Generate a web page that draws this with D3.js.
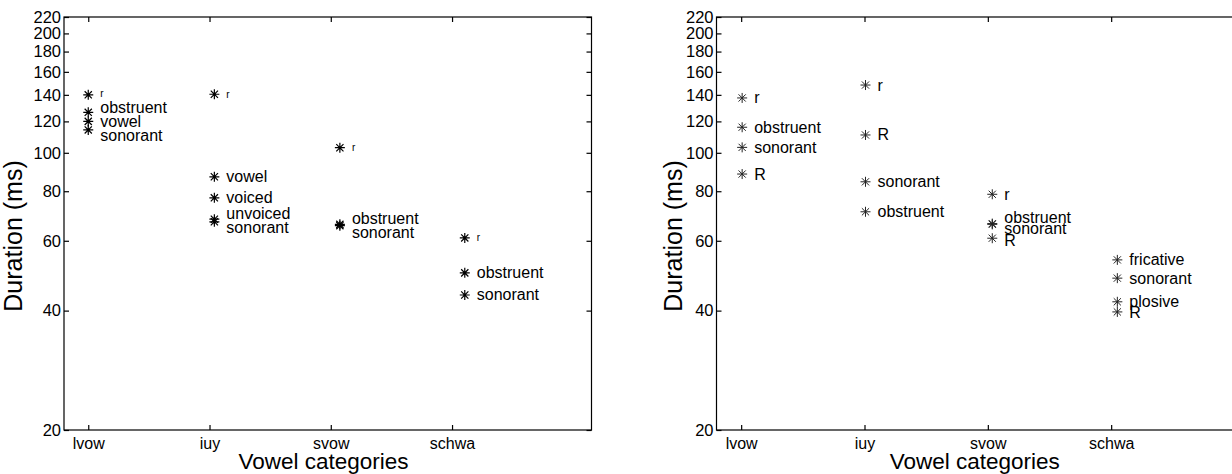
<!DOCTYPE html>
<html>
<head>
<meta charset="utf-8">
<script src="https://cdn.jsdelivr.net/npm/d3@7"></script>
<style>
  body { margin: 0; background: #fff; }
  svg { display: block; font-family: "Liberation Sans", Arial, Helvetica, sans-serif; }
  .axis path, .axis line { stroke: #000; stroke-width: 1.2; }
  .axis text { fill: #000; }
</style>
</head>
<body>
<div id="chart"></div>
<script>
const width = 1232;
const height = 474;

const categories = ['lvow', 'iuy', 'svow', 'schwa'];
const yTicks = [20, 40, 60, 80, 100, 120, 140, 160, 180, 200, 220];

// left panel: where each category's points sit on the x axis, and the points
const leftXPos = [1, 2.04, 3.075, 4.105];
const leftGroup = [0, 0, 0, 0, 1, 1, 1, 1, 1, 2, 2, 2, 3, 3, 3];
const leftLabels = ['r', 'obstruent', 'vowel', 'sonorant',
  'r', 'vowel', 'voiced', 'unvoiced', 'sonorant',
  'r', 'obstruent', 'sonorant',
  'r', 'obstruent', 'sonorant'];
const leftValues = [140, 126.5, 120, 114.2,
  140.5, 87, 77, 68, 67,
  103, 66, 65.5,
  61, 49.8, 43.8];

// right panel
const rightXPos = [1.008, 2.008, 3.036, 4.05];
const rightGroup = [0, 0, 0, 0, 1, 1, 1, 1, 2, 2, 2, 2, 3, 3, 3, 3];
const rightLabels = ['r', 'obstruent', 'sonorant', 'R',
  'r', 'R', 'sonorant', 'obstruent',
  'r', 'obstruent', 'sonorant', 'R',
  'fricative', 'sonorant', 'plosive', 'R'];
const rightValues = [137.5, 116, 103.2, 88.4,
  148.2, 110.9, 84.5, 71,
  78.6, 66.3, 66, 60.9,
  53.7, 48.3, 42.1, 39.7];

const svg = d3.select('#chart').append('svg')
    .attr('width', width)
    .attr('height', height);

svg.append('rect').attr('width', width).attr('height', height).attr('fill', '#fff');

const plotTop = 17;
const plotBottom = 430;
const tickLen = 5;

const starPath = (function () {
  const r = 5, d = 3.6;
  return `M0,${-r}V${r}M${-r},0H${r}M${-d},${-d}L${d},${d}M${-d},${d}L${d},${-d}`;
})();

// push overlapping labels apart (symmetric), keeps them near their star
function spreadLabels (ys, gap) {
  const order = ys.map((y, i) => i).sort((a, b) => ys[a] - ys[b]);
  const pos = order.map(i => ys[i]);
  for (let k = 0; k < 200; k++) {
    let moved = false;
    for (let i = 0; i < pos.length - 1; i++) {
      const deficit = gap - (pos[i + 1] - pos[i]);
      if (deficit > 0.01) {
        pos[i] -= deficit / 2;
        pos[i + 1] += deficit / 2;
        moved = true;
      }
    }
    if (!moved) break;
  }
  const out = new Array(ys.length);
  order.forEach((idx, j) => { out[idx] = pos[j]; });
  return out;
}

function drawPanel (cfg) {
  const g = svg.append('g');

  const scaleX = d3.scaleLinear().domain([0.8, 5.15]).range([cfg.x0, cfg.x1]);
  const scaleY = d3.scaleLog().domain([20, 220]).range([plotBottom, plotTop]);

  // frame
  g.append('rect')
    .attr('x', cfg.x0).attr('y', plotTop)
    .attr('width', cfg.x1 - cfg.x0).attr('height', plotBottom - plotTop)
    .attr('fill', 'none').attr('stroke', '#000').attr('stroke-width', 1.2);

  const xTickVals = categories.map((c, i) => i + 1);

  g.append('g')
    .attr('class', 'axis')
    .attr('transform', `translate(0, ${plotBottom})`)
    .call(d3.axisBottom(scaleX)
      .tickValues(xTickVals)
      .tickFormat((v, i) => categories[i])
      .tickSizeInner(-tickLen).tickSizeOuter(0).tickPadding(7.5))
    .call(s => s.selectAll('text').attr('font-size', 16));

  g.append('g')
    .attr('class', 'axis')
    .attr('transform', `translate(0, ${plotTop})`)
    .call(d3.axisTop(scaleX)
      .tickValues(xTickVals).tickFormat('')
      .tickSizeInner(-tickLen).tickSizeOuter(0));

  g.append('g')
    .attr('class', 'axis')
    .attr('transform', `translate(${cfg.x0}, 0)`)
    .call(d3.axisLeft(scaleY)
      .tickValues(yTicks).tickFormat(d3.format('d'))
      .tickSizeInner(-tickLen).tickSizeOuter(0).tickPadding(3))
    .call(s => s.selectAll('text').attr('font-size', 16.5));

  g.append('g')
    .attr('class', 'axis')
    .attr('transform', `translate(${cfg.x1}, 0)`)
    .call(d3.axisRight(scaleY)
      .tickValues(yTicks).tickFormat('')
      .tickSizeInner(-tickLen).tickSizeOuter(0));

  g.selectAll('.axis .domain').remove();

  // axis titles
  g.append('text')
    .attr('transform', `translate(${cfg.ylabelX}, 236) rotate(-90)`)
    .attr('text-anchor', 'middle')
    .attr('dominant-baseline', 'central')
    .attr('font-size', 25)
    .text('Duration (ms)');

  g.append('text')
    .attr('x', cfg.xlabelX)
    .attr('y', 469)
    .attr('text-anchor', 'middle')
    .attr('font-size', 22.5)
    .text('Vowel categories');

  // points
  const pts = cfg.values.map((v, i) => ({
    value: v,
    label: cfg.labels[i],
    group: cfg.groups[i]
  }));

  categories.forEach((c, gi) => {
    const members = pts.filter(p => p.group === gi);
    const ly = spreadLabels(members.map(p => scaleY(p.value)), cfg.labelGap);
    members.forEach((p, j) => { p.labelY = ly[j]; });
  });

  g.selectAll('.star')
    .data(pts)
    .enter()
    .append('path')
      .attr('class', 'star')
      .attr('d', starPath)
      .attr('transform', d => `translate(${scaleX(cfg.xpos[d.group])}, ${scaleY(d.value)})`)
      .attr('fill', 'none')
      .attr('stroke', cfg.markColor)
      .attr('stroke-width', cfg.markWidth);

  g.selectAll('.pt-label')
    .data(pts)
    .enter()
    .append('text')
      .attr('class', 'pt-label')
      .attr('x', d => scaleX(cfg.xpos[d.group]) + 12)
      .attr('y', d => d.labelY)
      .attr('dominant-baseline', 'central')
      .attr('font-size', d => (cfg.smallR && d.label === 'r') ? 10 : 16)
      .text(d => d.label);
}

drawPanel({
  x0: 64, x1: 591.5, ylabelX: 13, xlabelX: 323.5, labelGap: 14,
  xpos: leftXPos, groups: leftGroup, labels: leftLabels, values: leftValues,
  smallR: true, markColor: '#000', markWidth: 1.2
});

drawPanel({
  x0: 716.5, x1: 1253, ylabelX: 673, xlabelX: 974.7, labelGap: 11.5,
  xpos: rightXPos, groups: rightGroup, labels: rightLabels, values: rightValues,
  smallR: false, markColor: '#222', markWidth: 1
});
</script>
</body>
</html>
